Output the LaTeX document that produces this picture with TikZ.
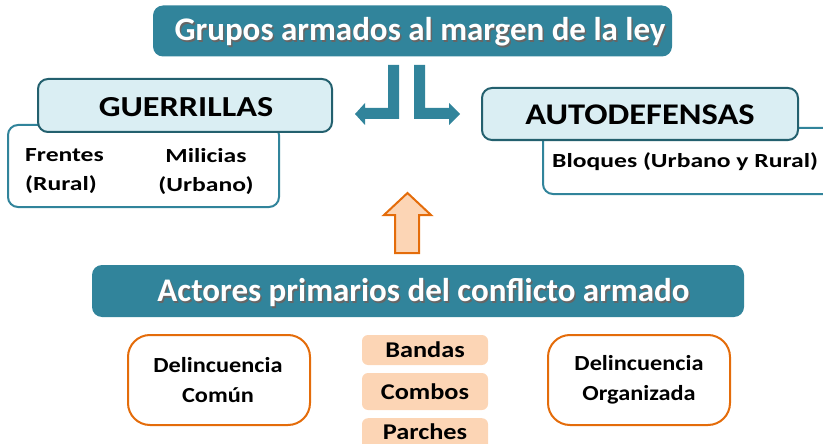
\documentclass[tikz,border=0pt]{standalone}
\usepackage{fontspec}
\setmainfont{Carlito}
\definecolor{teal1}{HTML}{31849B}
\definecolor{tealdark}{HTML}{23606E}
\definecolor{lightblue}{HTML}{DAEEF3}
\definecolor{orng}{HTML}{E46C0A}
\definecolor{peach}{HTML}{FCD5B5}
\newcommand{\stretchfont}[3]{\fontsize{#1}{#2}\selectfont\bfseries\addfontfeature{FakeStretch=#3}}
\tikzset{
  banner/.style={fill=teal1, rounded corners=10pt, inner sep=0pt},
  headbox/.style={draw=tealdark, line width=2pt, fill=lightblue, rounded corners=10pt, inner sep=0pt},
  bodybox/.style={draw=teal1, line width=2pt, fill=white, rounded corners=10pt, inner sep=0pt},
  orbox/.style={draw=orng, line width=2pt, fill=white, rounded corners=22pt, inner sep=0pt},
  peachbox/.style={fill=peach, rounded corners=6pt, inner sep=0pt},
  bigtxt/.style={font=\stretchfont{33}{36}{1.0}, inner sep=0pt},
  headtxt/.style={font=\stretchfont{29}{32}{1.18}, inner sep=0pt},
  smalltxt/.style={font=\stretchfont{20}{29}{1.28}, align=center, inner sep=0pt},
  midtxt/.style={font=\stretchfont{21.5}{30}{1.13}, align=center, inner sep=0pt},
  pchtxt/.style={font=\stretchfont{22.5}{24}{1.17}},
  lblarrow/.style={fill=teal1},
  uparrow/.style={fill=peach, draw=orng, line width=2pt, line join=miter}
}
\begin{document}
\begin{tikzpicture}[x=1pt,y=-1pt]
\useasboundingbox (0,0) rectangle (823,444);
\clip (0,0) rectangle (823,444);
% top banner
\node[banner, minimum width=519pt, minimum height=51pt] (title) at (412.5,31) {};
\node[bigtxt, text=black!60] at (421.5,33.5) {Grupos armados al margen de la ley};
\node[bigtxt, text=white] (titletxt) at (420,32) {Grupos armados al margen de la ley};
% guerrillas
\node[bodybox, minimum width=271pt, minimum height=82pt] (gbody) at (143.5,166) {};
\node[headbox, minimum width=294pt, minimum height=53pt] (ghead) at (185,105.5) {};
\node[headtxt] (gtxt) at (186,107) {GUERRILLAS};
\node[smalltxt, align=left, anchor=west] (frentes) at (25,171) {Frentes\\(Rural)};
\node[smalltxt] (milicias) at (206,171) {Milicias\\(Urbano)};
% autodefensas
\node[bodybox, minimum width=300pt, minimum height=66pt, anchor=north west] (abody) at (542,127) {};
\node[headbox, minimum width=316pt, minimum height=52pt] (ahead) at (640,114) {};
\node[headtxt, font=\stretchfont{30}{32}{1.15}] (atxt) at (640,115) {AUTODEFENSAS};
\node[smalltxt, anchor=west] (bloques) at (552,162) {Bloques (Urbano y Rural)};
% L arrows
\fill[lblarrow] (388,65) -- (399,65) -- (399,119) -- (365,119) -- (365,125) -- (355,114) -- (365,103) -- (365,108) -- (388,108) -- cycle;
\fill[lblarrow] (414,65) -- (425,65) -- (425,108) -- (449,108) -- (449,103) -- (460,114) -- (449,125) -- (449,119) -- (414,119) -- cycle;
% up arrow
\draw[uparrow] (395,253) -- (395,215) -- (384,215) -- (407.5,193) -- (431,215) -- (419,215) -- (419,253) -- cycle;
% actores banner
\node[banner, minimum width=652pt, minimum height=52pt] (actores) at (418,291) {};
\node[bigtxt, text=black!60] at (425,294.5) {Actores primarios del conflicto armado};
\node[bigtxt, text=white] (acttxt) at (423.5,293) {Actores primarios del conflicto armado};
% bottom
\node[orbox, minimum width=182pt, minimum height=90pt] (dc) at (219,380) {};
\node[midtxt] (dctxt) at (218,380) {Delincuencia\\Común};
\node[orbox, minimum width=182pt, minimum height=90pt] (do) at (639,380) {};
\node[midtxt] (dotxt) at (639,380) {Delincuencia\\Organizada};
\node[peachbox, minimum width=126pt, minimum height=30pt, pchtxt] (bandas) at (425,350) {Bandas};
\node[peachbox, minimum width=126pt, minimum height=37pt, pchtxt] (combos) at (425,391.5) {Combos};
\node[peachbox, minimum width=126pt, minimum height=37pt, anchor=north] (parches) at (425,418) {};
\node[pchtxt] (parchestxt) at (425,432) {Parches};
\end{tikzpicture}
\end{document}
